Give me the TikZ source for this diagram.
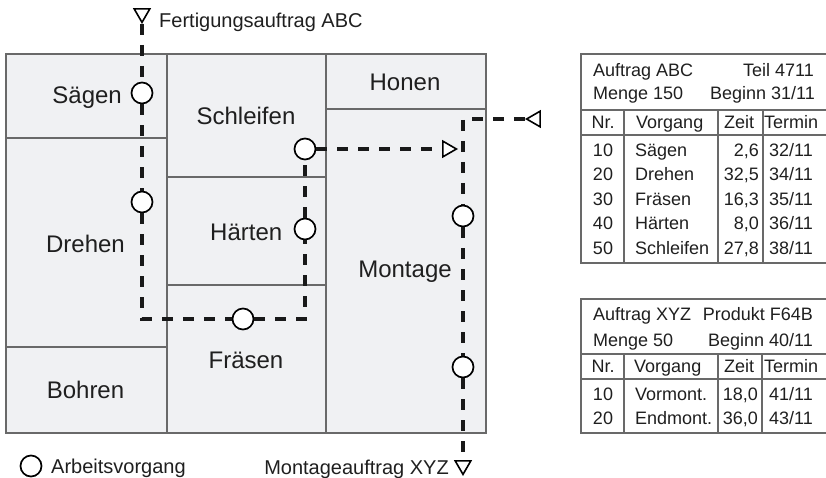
\documentclass[tikz,border=0pt]{standalone}
\usepackage{fontspec}
\setmainfont{Liberation Sans}
\usetikzlibrary{shapes.geometric}

\definecolor{bodengrau}{RGB}{240,241,243}
\definecolor{liniengrau}{RGB}{105,105,105}

\begin{document}
\begin{tikzpicture}[x=1pt, y=-1pt,
  wand/.style={draw=liniengrau, line width=1.3pt},
  tab/.style={draw=liniengrau, line width=1.3pt},
  ag/.style={circle, draw, fill=white, line width=1.7pt, minimum size=21pt, inner sep=0pt},
  weg/.style={line width=3.6pt, dash pattern=on 11pt off 10pt, black!90},
  dreieck/.style={regular polygon, regular polygon sides=3, draw, fill=white, line width=1.6pt, minimum size=18pt, inner sep=0pt},
  raum/.style={font=\fontsize{24}{28}\selectfont, inner sep=0pt, text height=17pt, text depth=0pt, black!88},
  lt/.style={font=\fontsize{20}{24}\selectfont, inner sep=0pt, text height=14.3pt, text depth=0pt, black!88},
  tt/.style={font=\fontsize{18}{22}\selectfont, inner sep=0pt, text height=12.9pt, text depth=0pt, black!88}]
\useasboundingbox (0,0) rectangle (826,478);

% 绘制车间平面图
\fill[bodengrau] (6,54) rectangle (486,433);
\draw[wand] (6,54) rectangle (486,433);
\draw[wand] (167,54) -- (167,433);
\draw[wand] (326,54) -- (326,433);
\draw[wand] (6,138) -- (167,138);
\draw[wand] (6,347) -- (167,347);
\draw[wand] (167,177) -- (326,177);
\draw[wand] (167,285) -- (326,285);
\draw[wand] (326,109) -- (486,109);

% 添加车间名称
\node[raum, anchor=east] (saegen-text) at (122,95) {Sägen};
\node[raum, anchor=east] (drehen-text) at (125,243.5) {Drehen};
\node[raum] (schleifen-text) at (246,116.5) {Schleifen};
\node[raum, anchor=west] (haerten-text) at (210,232) {Härten};
\node[raum] (fraesen-text) at (246,360) {Fräsen};
\node[raum] (honen-text) at (405,82) {Honen};
\node[raum] (montage-text) at (405,269) {Montage};
\node[raum] (bohren-text) at (85.5,390) {Bohren};

% 工序圆圈
\node[ag] (saegen) at (142,93) {};
\node[ag] (drehen) at (142,202) {};
\node[ag] (fraesen) at (243,319) {};
\node[ag] (haerten) at (305,229) {};
\node[ag] (schleifen) at (305,149) {};
\node[ag] (mont1) at (463,216) {};
\node[ag] (mont2) at (463,367) {};

% 三角形标记
\node[dreieck, shape border rotate=180, anchor=corner 1] (start) at (142,24) {};
\node[dreieck, shape border rotate=-90, anchor=corner 1] (pfeil) at (458,149) {};
\node[dreieck, shape border rotate=90, anchor=corner 1] (eingang) at (525,119) {};
\node[dreieck, shape border rotate=180, anchor=corner 1] (ende) at (463,476) {};

% 加工路线
\draw[weg] (start.corner 1) -- (saegen) -- (drehen) |- (fraesen) -| (haerten) -- (schleifen) -- (pfeil.side 2);
\draw[weg] (eingang.corner 1) -| (mont1) -- (mont2) -- (ende.side 2);

% 图例
\node[lt, anchor=west] (fa-text) at (159,20) {Fertigungsauftrag ABC};
\node[lt, anchor=east] (ma-text) at (449,467) {Montageauftrag XYZ};
\node[ag] (legende) at (31,466) {};
\node[lt, anchor=west] (legende-text) at (51,466) {Arbeitsvorgang};

% 表格 ABC
\draw[tab] (581,54) rectangle (828,263);
\draw[tab] (581,110) -- (828,110);
\draw[tab] (581,135) -- (828,135);
\foreach \x in {624,718,763} \draw[tab] (\x,110) -- (\x,263);
\node[tt, anchor=west] (abc-auftrag) at (593,70) {Auftrag ABC};
\node[tt, anchor=east] (abc-teil) at (814,70) {Teil 4711};
\node[tt, anchor=west] (abc-menge) at (593,93) {Menge 150};
\node[tt, anchor=east] (abc-beginn) at (815,93) {Beginn 31/11};
\node[tt] (abc-nr) at (603,122.5) {Nr.};
\node[tt, anchor=west] (abc-vg) at (636,122.5) {Vorgang};
\node[tt] (abc-zeit) at (739,122.5) {Zeit};
\node[tt, anchor=west] (abc-termin) at (764,122.5) {Termin};
\foreach \nr/\vg/\zt/\tm [count=\i from 0] in {10/Sägen/{2,6}/{32/11}, 20/Drehen/{32,5}/{34/11}, 30/Fräsen/{16,3}/{35/11}, 40/Härten/{8,0}/{36/11}, 50/Schleifen/{27,8}/{38/11}} {
  \node[tt] (abc-nr-\i) at (603,150+24.5*\i) {\nr};
  \node[tt, anchor=west] (abc-vg-\i) at (635,150+24.5*\i) {\vg};
  \node[tt, anchor=east] (abc-zt-\i) at (759,150+24.5*\i) {\zt};
  \node[tt, anchor=west] (abc-tm-\i) at (769,150+24.5*\i) {\tm};
}

% 表格 XYZ
\draw[tab] (581,299) rectangle (828,433);
\draw[tab] (581,354) -- (828,354);
\draw[tab] (581,379) -- (828,379);
\foreach \x in {624,718,762} \draw[tab] (\x,354) -- (\x,433);
\node[tt, anchor=west] (xyz-auftrag) at (593,314) {Auftrag XYZ};
\node[tt, anchor=east] (xyz-produkt) at (813,314) {Produkt F64B};
\node[tt, anchor=west] (xyz-menge) at (593,340) {Menge 50};
\node[tt, anchor=east] (xyz-beginn) at (813,340) {Beginn 40/11};
\node[tt] (xyz-nr) at (603,366.5) {Nr.};
\node[tt, anchor=west] (xyz-vg) at (634,366.5) {Vorgang};
\node[tt] (xyz-zeit) at (739,366.5) {Zeit};
\node[tt, anchor=west] (xyz-termin) at (764,366.5) {Termin};
\foreach \nr/\vg/\zt/\tm [count=\i from 0] in {10/Vormont./{18,0}/{41/11}, 20/Endmont./{36,0}/{43/11}} {
  \node[tt] (xyz-nr-\i) at (603,394+24.5*\i) {\nr};
  \node[tt, anchor=west] (xyz-vg-\i) at (635,394+24.5*\i) {\vg};
  \node[tt, anchor=east] (xyz-zt-\i) at (758,394+24.5*\i) {\zt};
  \node[tt, anchor=west] (xyz-tm-\i) at (769,394+24.5*\i) {\tm};
}
\end{tikzpicture}
\end{document}
